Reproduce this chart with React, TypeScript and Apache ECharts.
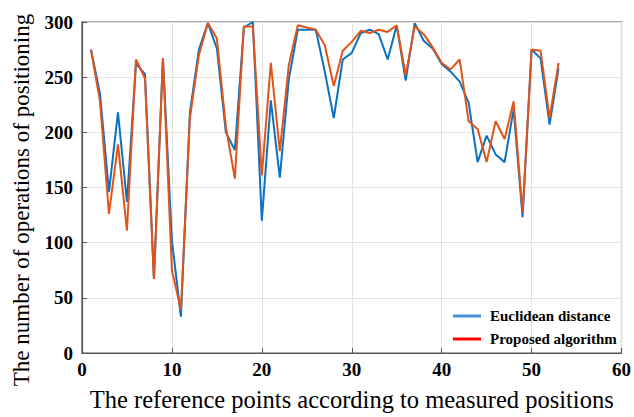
import React, { useEffect, useRef } from "react";
import * as echarts from "echarts";

const points = Array.from({ length: 53 }, (_, k) => k + 1);
const euclidean = [
  275, 235, 146, 218, 137, 262, 253, 67, 267, 102,
  33, 218, 275, 299, 276, 200, 184, 295, 300, 120,
  229, 159, 248, 293, 293, 293, 255, 213, 266, 272,
  290, 293, 289, 266, 297, 247, 299, 283, 276, 262,
  255, 246, 227, 173, 197, 180, 173, 221, 123, 275,
  267, 207, 258,
];
const proposed = [
  275, 228, 126, 189, 111, 266, 249, 67, 267, 75,
  39, 213, 270, 299, 285, 205, 158, 296, 296, 161,
  263, 183, 261, 297, 295, 293, 279, 242, 274, 282,
  292, 290, 293, 291, 297, 252, 296, 289, 277, 263,
  257, 266, 210, 203, 173, 210, 194, 228, 127, 275,
  274, 213, 263,
];
const seriesNames = ["Euclidean distance", "Proposed algorithm"];
const xTicks = { min: 0, max: 60, interval: 10 };
const yTicks = { min: 0, max: 300, interval: 50 };
const xTitle = "The reference points according to measured positions";
const yTitle = "The number of operations of positioning";

const serif = "'Liberation Serif', 'Times New Roman', serif";

export default function App() {
  const ref = useRef<HTMLDivElement>(null);
  useEffect(() => {
    if (!ref.current) return;
    const chart = echarts.init(ref.current, null, { renderer: "svg" });
    const axisCommon = {
      axisLine: { show: true, lineStyle: { color: "#555", width: 1.2 } },
      axisTick: { show: true, inside: true, length: 5, lineStyle: { color: "#555" } },
      splitLine: { show: true, lineStyle: { color: "#e3e3e3", width: 1 } },
      axisLabel: {
        color: "#000",
        fontFamily: serif,
        fontWeight: "bold",
        fontSize: 19,
      },
    };
    chart.setOption({
      animation: false,
      grid: {
        left: 82,
        right: 12,
        top: 22,
        bottom: 61,
        show: true,
        borderColor: "#555",
        borderWidth: 1.2,
        backgroundColor: "#fff",
      },
      graphic: [
        {
          type: "text",
          x: 21,
          y: 200,
          rotation: Math.PI / 2,
          style: {
            text: yTitle,
            fontFamily: serif,
            fontSize: 23,
            fill: "#000",
            align: "center",
            verticalAlign: "middle",
          },
        },
      ],
      xAxis: {
        type: "value",
        ...xTicks,
        ...axisCommon,
        axisLabel: { ...axisCommon.axisLabel, margin: 7 },
        name: xTitle,
        nameLocation: "middle",
        nameGap: 34,
        nameTextStyle: { fontFamily: serif, fontSize: 24.5, color: "#000" },
      },
      yAxis: {
        type: "value",
        ...yTicks,
        ...axisCommon,
        axisLabel: { ...axisCommon.axisLabel, margin: 9 },
      },
      legend: {
        orient: "vertical",
        left: 453,
        top: 308,
        padding: 0,
        itemGap: 7,
        itemWidth: 28,
        itemHeight: 3,
        icon: "rect",
        textStyle: {
          fontFamily: serif,
          fontWeight: "bold",
          fontSize: 15,
          lineHeight: 16,
          color: "#000",
          padding: [0, 0, 0, 4],
        },
        data: [
          { name: seriesNames[0], itemStyle: { color: "#4a90d9" } },
          { name: seriesNames[1], itemStyle: { color: "#ff0000" } },
        ],
      },
      series: [
        {
          name: seriesNames[0],
          type: "line",
          data: points.map((x, k) => [x, euclidean[k]]),
          showSymbol: false,
          symbol: "none",
          lineStyle: { color: "#0a72c2", width: 2 },
          itemStyle: { color: "#0a72c2" },
        },
        {
          name: seriesNames[1],
          type: "line",
          data: points.map((x, k) => [x, proposed[k]]),
          showSymbol: false,
          symbol: "none",
          lineStyle: { color: "#e0541a", width: 2 },
          itemStyle: { color: "#e0541a" },
        },
      ],
    });
    return () => chart.dispose();
  }, []);
  return <div ref={ref} style={{ width: 634, height: 417, position: "absolute", left: 0, top: 0 }} />;
}
